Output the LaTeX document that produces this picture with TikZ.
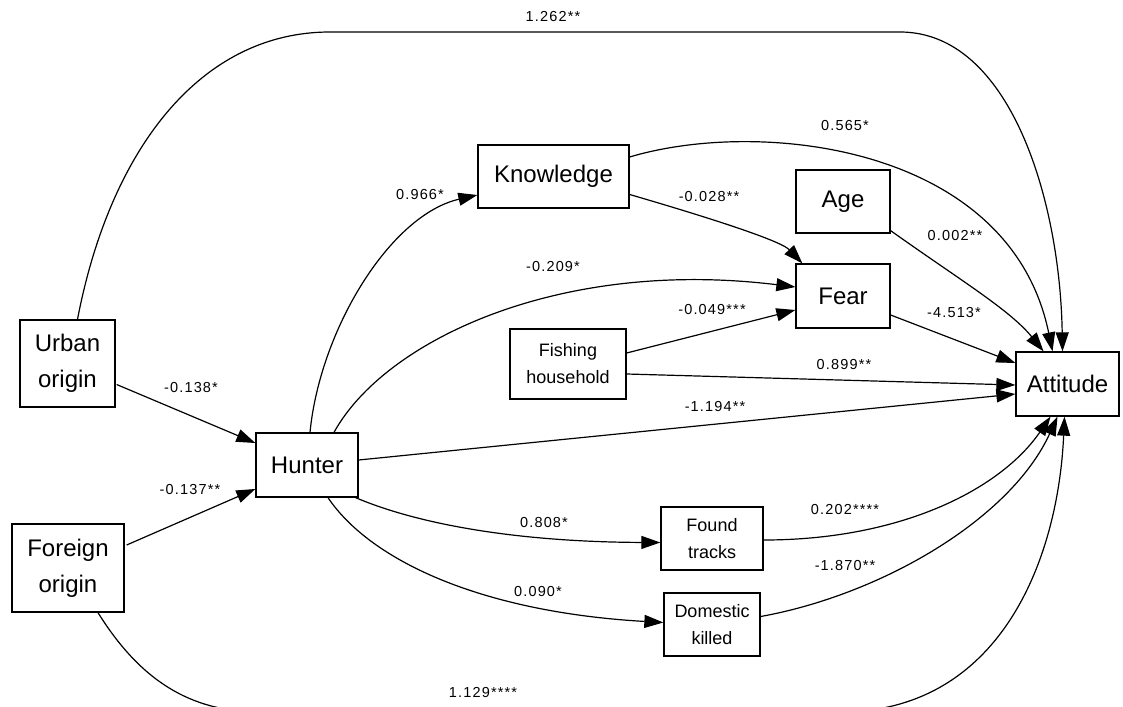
\documentclass[tikz,border=0pt]{standalone}
\usepackage{fontspec}
\setmainfont{Liberation Sans}
\newfontfamily\lblfont{Liberation Sans}[LetterSpace=8]
\usetikzlibrary{arrows.meta,calc}
\begin{document}
\begin{tikzpicture}[x=1pt,y=-1pt,
 box/.style={draw,line width=1.3pt,inner sep=0pt,align=center,font=\fontsize{24}{36}\selectfont},
 sbox/.style={box,font=\fontsize{18}{27}\selectfont},
 arr/.style={line width=1.2pt,-{Triangle[length=19pt,width=13pt]}},
 lbl/.style={font=\lblfont\fontsize{14.5}{16}\selectfont,inner sep=0pt}]
\useasboundingbox (0,0) rectangle (1123,706);
% nodes
\node[box,minimum width=95pt,minimum height=87pt] (urban) at (67.5,363.5) {Urban\\origin};
\node[box,minimum width=112pt,minimum height=88pt] (foreign) at (68,568) {Foreign\\origin};
\node[box,minimum width=102pt,minimum height=64pt] (hunter) at (307,465) {Hunter};
\node[box,minimum width=151pt,minimum height=63pt] (know) at (553.5,176.5) {Knowledge};
\node[sbox,minimum width=116pt,minimum height=70pt] (fish) at (568,364) {Fishing\\household};
\node[box,minimum width=94pt,minimum height=63pt] (age) at (843,201.5) {Age};
\node[box,minimum width=94pt,minimum height=64pt] (fear) at (843,296) {Fear};
\node[box,minimum width=103pt,minimum height=64pt] (att) at (1067.5,384) {Attitude};
\node[sbox,minimum width=102pt,minimum height=63pt] (found) at (712,538.5) {Found\\tracks};
\node[sbox,minimum width=96pt,minimum height=63pt] (dom) at (712,624.5) {Domestic\\killed};
% edges
\draw[arr] ($(urban.north)+(10,0)$) .. controls (110,150) and (200,32) .. (330,32)
   -- (900,32) .. controls (1010,32) and (1060,200) .. ($(att.north)+(-5,0)$);
\draw[arr] ($(foreign.south)+(30,0)$) .. controls (140,680) and (190,712) .. (260,712)
   -- (840,712) .. controls (1000,712) and (1058,560) .. ($(att.south)+(-3,0)$);
\draw[arr] ($(urban.east)+(1,21)$) -- ($(hunter.west)+(0,-22)$);
\draw[arr] ($(foreign.east)+(2,-23)$) -- ($(hunter.west)+(0,24)$);
\draw[arr] ($(hunter.north)+(3,0)$) .. controls (320,330) and (390,215) .. ($(know.west)+(0,18.5)$);
\draw[arr] ($(hunter.north)+(27,0)$) .. controls (385,340) and (560,258) .. ($(fear.west)+(0,-9)$);
\draw[arr] ($(fish.east)+(0,-11)$) -- ($(fear.west)+(0,14)$);
\draw[arr] ($(fish.east)+(0,10)$) -- ($(att.west)+(0,1)$);
\draw[arr] ($(hunter.east)+(0,-5)$) -- ($(att.west)+(0,10)$);
\draw[arr] ($(hunter.south east)+(-3,0)$) .. controls (420,525) and (520,542) .. ($(found.west)+(0,4)$);
\draw[arr] ($(hunter.south)+(21,0)$) .. controls (370,560) and (480,612) .. ($(dom.west)+(0,-2)$);
\draw[arr] ($(know.east)+(0,18)$) .. controls (700,215) and (780,240) .. ($(fear.north west)+(7,0)$);
\draw[arr] ($(know.east)+(0,-19.5)$) .. controls (760,118) and (1010,145) .. ($(att.north)+(-15,0)$);
\draw[arr] ($(age.south east)+(0,-3)$) .. controls (960,280) and (1010,310) .. ($(att.north)+(-24,0)$);
\draw[arr] ($(fear.east)+(0,19)$) -- ($(att.west)+(0,-21)$);
\draw[arr] ($(found.east)+(0,1.5)$) .. controls (900,540) and (1000,490) .. ($(att.south)+(-17,0)$);
\draw[arr] ($(dom.east)+(0,-8)$) .. controls (880,595) and (1010,520) .. ($(att.south)+(-10,0)$);
% labels
\node[lbl] (l1) at (553,17) {1.262**};
\node[lbl] (l2) at (845,126) {0.565*};
\node[lbl] (l3) at (420,195) {0.966*};
\node[lbl] (l4) at (709,197) {-0.028**};
\node[lbl] (l5) at (955,236) {0.002**};
\node[lbl] (l6) at (553,267) {-0.209*};
\node[lbl] (l7) at (712,310) {-0.049***};
\node[lbl] (l8) at (954,313) {-4.513*};
\node[lbl] (l9) at (844,365) {0.899**};
\node[lbl] (l10) at (191,388) {-0.138*};
\node[lbl] (l11) at (715,407) {-1.194**};
\node[lbl] (l12) at (190,490) {-0.137**};
\node[lbl] (l13) at (845,510) {0.202****};
\node[lbl] (l14) at (544,523) {0.808*};
\node[lbl] (l15) at (845,566) {-1.870**};
\node[lbl] (l16) at (538,592) {0.090*};
\node[lbl] (l17) at (483,692) {1.129****};
\end{tikzpicture}
\end{document}
